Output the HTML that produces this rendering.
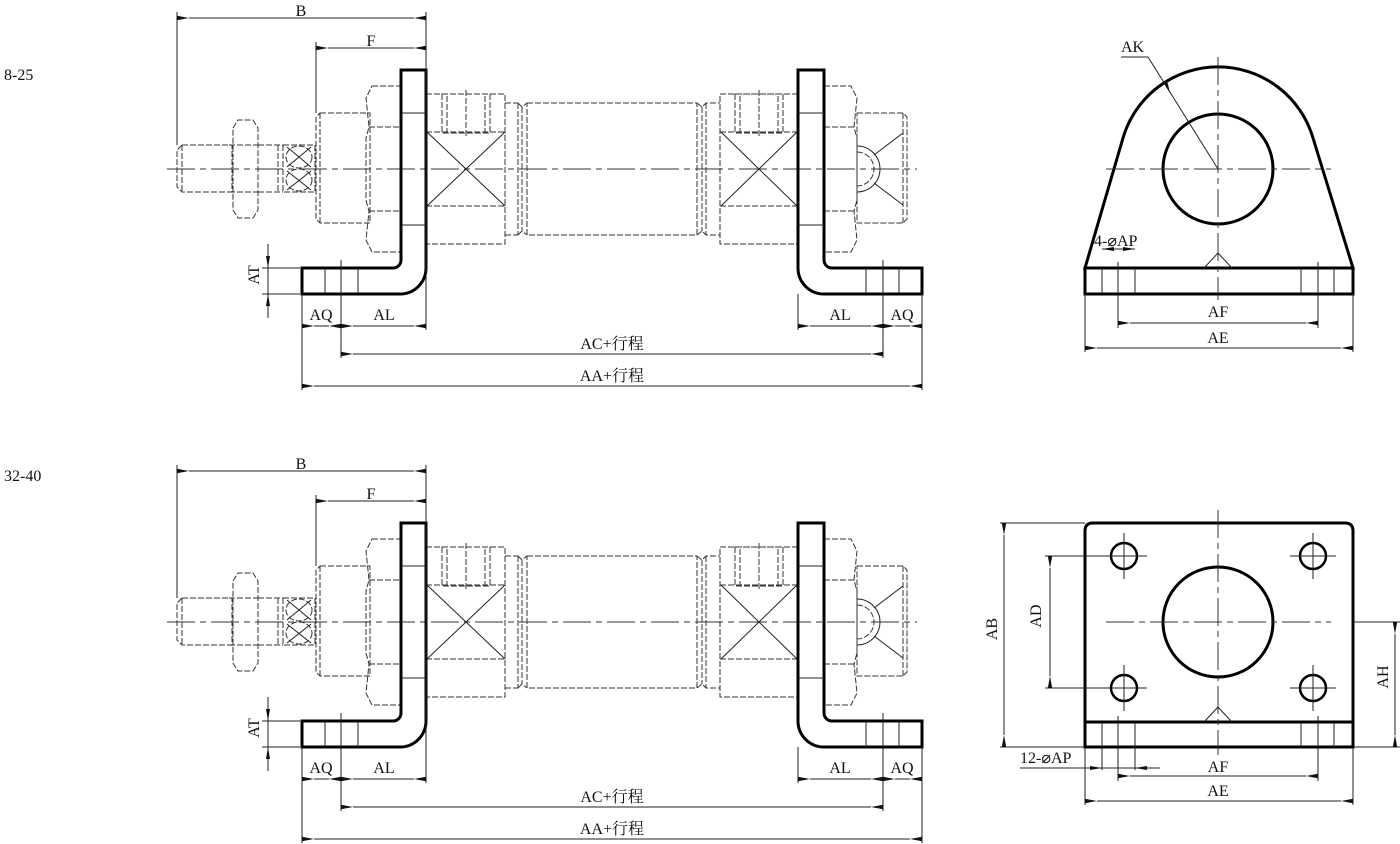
<!DOCTYPE html>
<html><head><meta charset="utf-8"><style>
html,body{margin:0;padding:0;background:#fff;}
svg{display:block;}
text{font-family:"Liberation Serif","Noto Serif CJK SC",serif;font-size:16px;fill:#111;}
.d{fill:none;stroke:#333;stroke-width:1;stroke-dasharray:6,2;}
.t{fill:none;stroke:#222;stroke-width:1;}
.k{fill:none;stroke:#000;stroke-width:3;}
.c{fill:none;stroke:#333;stroke-width:1;stroke-dasharray:28,5,6,5;}
.a{fill:none;stroke:#222;stroke-width:1;marker-start:url(#ar);marker-end:url(#ar);}
</style></head><body>
<svg width="1400" height="844" viewBox="0 0 1400 844" xmlns="http://www.w3.org/2000/svg">
<defs>
<marker id="ar" viewBox="0 0 12 6" refX="0" refY="3" markerWidth="12" markerHeight="6" markerUnits="userSpaceOnUse" orient="auto-start-reverse"><path d="M0,3 L12,0.8 L12,5.2 Z" fill="#111"/></marker>
<marker id="ae" viewBox="0 0 12 6" refX="12" refY="3" markerWidth="12" markerHeight="6" markerUnits="userSpaceOnUse" orient="auto"><path d="M12,3 L0,0.8 L0,5.2 Z" fill="#111"/></marker>
<g id="cyl">
<line class="c" x1="167" y1="169" x2="917" y2="169"/>
<!-- rod end -->
<path class="d" d="M182,145 L232,145 L232,192 L182,192 L177,187 L177,150 Z"/>
<line class="d" x1="182" y1="145" x2="182" y2="192"/>
<path class="d" d="M233,128 L238,120 L253,120 L258,128 L258,210 L253,218 L238,218 L233,210 Z"/>
<line class="d" x1="229" y1="145" x2="260" y2="145"/><line class="d" x1="229" y1="192" x2="260" y2="192"/>
<line class="d" x1="258" y1="145" x2="283" y2="145"/><line class="d" x1="258" y1="192" x2="283" y2="192"/>
<line class="d" x1="278" y1="145" x2="278" y2="192"/>
<rect class="d" x="283" y="145" width="32" height="47"/>
<path class="t" d="M287,147 L311,167 M311,147 L287,167 M287,171 L311,190 M311,171 L287,190"/>
<ellipse class="d" cx="299" cy="157" rx="13" ry="11"/><ellipse class="d" cx="299" cy="180" rx="13" ry="11"/>
<!-- front boss & nut -->
<path class="d" d="M320,113 L370,113 L370,223 L320,223 L316,219 L316,117 Z"/>
<line class="d" x1="320" y1="113" x2="320" y2="223"/>
<path class="d" d="M372,86 L401,86 L401,252 L372,252 L366,240 L369,211 L366,200 L366,138 L369,127 L366,98 Z"/>
<line class="d" x1="369" y1="127" x2="401" y2="127"/><line class="d" x1="369" y1="211" x2="401" y2="211"/>
<!-- front cover -->
<rect class="d" x="426" y="94" width="79" height="150"/>
<rect class="d" x="442" y="94" width="48" height="39"/>
<line class="d" x1="447" y1="96" x2="447" y2="133"/><line class="d" x1="485" y1="96" x2="485" y2="133"/>
<line class="d" x1="466" y1="90" x2="466" y2="138"/>
<line class="d" x1="426" y1="132" x2="505" y2="132"/><line class="d" x1="426" y1="206" x2="505" y2="206"/>
<path class="t" d="M427,132 L505,206 M505,132 L427,206"/>
<!-- grooves -->
<path class="d" d="M505,103 L518,103 M505,235 L518,235 M518,103 L518,235 M522,107 L522,231 M518,103 L522,107 L527,103 M518,235 L522,231 L527,235"/>
<rect class="d" x="527" y="103" width="170" height="132"/>
<path class="d" d="M697,103 L702,107 L706,103 L720,103 M697,235 L702,231 L706,235 L720,235 M702,107 L702,231 M706,103 L706,235"/>
<!-- rear cover -->
<rect class="d" x="720" y="94" width="78" height="150"/>
<rect class="d" x="735" y="94" width="48" height="39"/>
<line class="d" x1="740" y1="96" x2="740" y2="133"/><line class="d" x1="778" y1="96" x2="778" y2="133"/>
<line class="d" x1="759" y1="90" x2="759" y2="138"/>
<line class="d" x1="720" y1="132" x2="798" y2="132"/><line class="d" x1="720" y1="206" x2="798" y2="206"/>
<path class="t" d="M721,132 L797,206 M797,132 L721,206"/>
<!-- rear nut & boss -->
<path class="d" d="M824,86 L851,86 L857,98 L854,127 L857,138 L857,200 L854,211 L857,240 L851,252 L824,252 Z"/>
<line class="d" x1="824" y1="127" x2="854" y2="127"/><line class="d" x1="824" y1="211" x2="854" y2="211"/>
<path class="d" d="M857,113 L903,113 L907,117 L907,219 L903,223 L857,223 Z"/>
<line class="d" x1="903" y1="113" x2="903" y2="223"/>
<path class="t" d="M874,155 L903,133 M874,183 L903,205"/>
<path class="t" d="M857,146 A23,23 0 0 1 857,192"/>
<path class="d" d="M857,152 A17,17 0 0 1 857,186"/>
<!-- brackets -->
<path class="k" d="M401,70 L426,70 L426,268 A26,26 0 0 1 400,294 L302,294 L302,268 L393,268 A8,8 0 0 0 401,260 Z"/>
<path class="t" d="M401,113 L426,113 M401,225 L426,225 M325,268 L325,294 M358,268 L358,294 M341,260 L341,330"/>
<path class="k" d="M798,70 L824,70 L824,260 A8,8 0 0 0 832,268 L922,268 L922,294 L824,294 A26,26 0 0 1 798,268 Z"/>
<path class="t" d="M798,113 L824,113 M798,225 L824,225 M866,268 L866,294 M899,268 L899,294 M883,260 L883,358"/>
<!-- extension lines -->
<path class="t" d="M177,12 L177,145 M316,42 L316,113 M426,12 L426,330 M302,294 L302,390 M341,330 L341,358 M798,294 L798,330 M922,294 L922,390 M262,268 L300,268 M262,294 L300,294"/>
<!-- dims -->
<line class="a" x1="189" y1="18" x2="414" y2="18"/>
<line class="a" x1="328" y1="48" x2="414" y2="48"/>
<line class="t" x1="268" y1="244" x2="268" y2="318"/>
<path d="M268,268 L266,256 L270,256 Z M268,294 L266,306 L270,306 Z" fill="#111"/>
<line class="a" x1="314" y1="326" x2="329" y2="326"/>
<line class="a" x1="353" y1="326" x2="414" y2="326"/>
<line class="a" x1="810" y1="326" x2="871" y2="326"/>
<line class="a" x1="895" y1="326" x2="910" y2="326"/>
<line class="a" x1="353" y1="354" x2="871" y2="354"/>
<line class="a" x1="314" y1="386" x2="910" y2="386"/>
<text x="301" y="16" text-anchor="middle">B</text>
<text x="371" y="46" text-anchor="middle">F</text>
<text x="265" y="281" text-anchor="middle" transform="rotate(-90 259 281)">AT</text>
<text x="321" y="320" text-anchor="middle">AQ</text>
<text x="384" y="320" text-anchor="middle">AL</text>
<text x="840" y="320" text-anchor="middle">AL</text>
<text x="902" y="320" text-anchor="middle">AQ</text>
<text x="612" y="349" text-anchor="middle">AC+行程</text>
<text x="612" y="381" text-anchor="middle">AA+行程</text>
</g>
</defs>
<use href="#cyl"/>
<use href="#cyl" transform="translate(0,453)"/>
<text x="4" y="80">8-25</text>
<text x="4" y="481">32-40</text>

<!-- top right view -->
<path class="k" d="M1085,268 L1123,138 A99,99 0 0 1 1313,138 L1353,268 Z"/>
<rect class="k" x="1085" y="268" width="268" height="26"/>
<circle class="k" cx="1218" cy="169" r="55"/>
<line class="c" x1="1106" y1="169" x2="1331" y2="169"/>
<line class="c" x1="1218" y1="57" x2="1218" y2="300"/>
<path class="t" d="M1204,268 L1218,253 L1232,268 M1102,268 L1102,294 M1135,268 L1135,294 M1301,268 L1301,294 M1334,268 L1334,294 M1118,262 L1118,328 M1318,262 L1318,328 M1085,294 L1085,352 M1353,294 L1353,352"/>
<path class="t" d="M1121,57 L1148,57 L1218,169"/>
<path d="M1170,93 L1163,82 L1167,80 Z" fill="#111" transform="rotate(0)"/>
<text x="1121" y="52">AK</text>
<line class="t" x1="1102" y1="249" x2="1135" y2="249"/>
<path d="M1102,249 L1114,247 L1114,251 Z M1135,249 L1123,247 L1123,251 Z" fill="#111"/>
<text x="1094" y="246">4-⌀AP</text>
<line class="a" x1="1130" y1="323" x2="1306" y2="323"/>
<line class="a" x1="1097" y1="348" x2="1341" y2="348"/>
<text x="1218" y="317" text-anchor="middle">AF</text>
<text x="1218" y="343" text-anchor="middle">AE</text>

<!-- bottom right view -->
<path class="k" d="M1085,747 L1085,531 Q1085,523 1093,523 L1345,523 Q1353,523 1353,531 L1353,747 Z"/>
<line class="k" x1="1085" y1="722" x2="1353" y2="722"/>
<circle class="k" cx="1218" cy="622" r="55"/>
<g class="k" style="stroke-width:2.5">
<circle cx="1124" cy="556" r="13"/><circle cx="1313" cy="556" r="13"/>
<circle cx="1124" cy="688" r="13"/><circle cx="1313" cy="688" r="13"/>
</g>
<path class="t" d="M1101,556 L1147,556 M1124,533 L1124,579 M1290,556 L1336,556 M1313,533 L1313,579 M1101,688 L1147,688 M1124,665 L1124,711 M1290,688 L1336,688 M1313,665 L1313,711"/>
<line class="c" x1="1106" y1="622" x2="1331" y2="622"/>
<line class="c" x1="1218" y1="510" x2="1218" y2="755"/>
<path class="t" d="M1204,722 L1218,707 L1232,722 M1102,722 L1102,770 M1118,716 L1118,781 M1135,722 L1135,770 M1301,722 L1301,747 M1318,716 L1318,781 M1334,722 L1334,747 M1085,747 L1085,805 M1353,747 L1353,805"/>
<path class="t" d="M1000,523 L1085,523 M1000,747 L1085,747 M1045,556 L1111,556 M1045,688 L1111,688 M1353,622 L1400,622 M1353,747 L1400,747"/>
<line class="a" x1="1004" y1="535" x2="1004" y2="735"/>
<line class="a" x1="1050" y1="568" x2="1050" y2="676"/>
<line class="a" x1="1395" y1="634" x2="1395" y2="735"/>
<text x="1003" y="635" text-anchor="middle" transform="rotate(-90 997 635)">AB</text>
<text x="1047" y="622" text-anchor="middle" transform="rotate(-90 1041 622)">AD</text>
<text x="1394" y="683" text-anchor="middle" transform="rotate(-90 1388 683)">AH</text>
<line class="t" x1="1020" y1="768" x2="1160" y2="768"/>
<path d="M1102,768 L1090,766 L1090,770 Z M1135,768 L1147,766 L1147,770 Z" fill="#111"/>
<text x="1020" y="763">12-⌀AP</text>
<line class="a" x1="1130" y1="776" x2="1306" y2="776"/>
<line class="a" x1="1097" y1="801" x2="1341" y2="801"/>
<text x="1218" y="772" text-anchor="middle">AF</text>
<text x="1218" y="796" text-anchor="middle">AE</text>
</svg>
</body></html>
